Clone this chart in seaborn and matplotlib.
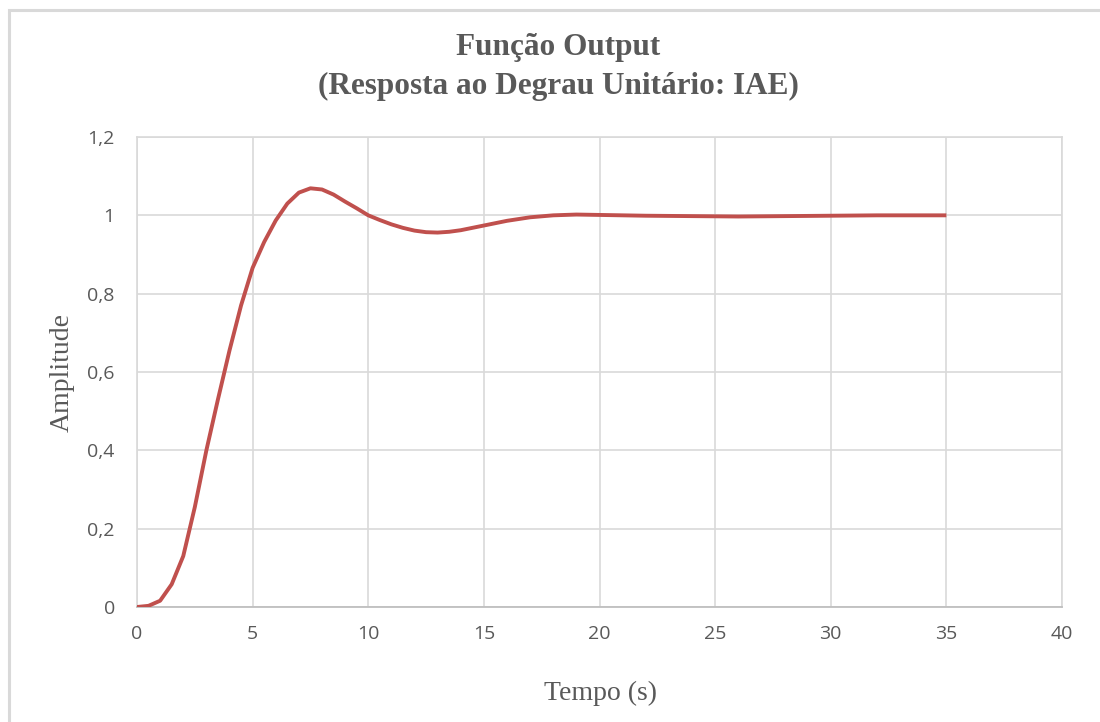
import matplotlib
matplotlib.use("Agg")
import matplotlib.pyplot as plt
import matplotlib.patches as mpatches
import seaborn as sns
import pandas as pd
from matplotlib.ticker import FuncFormatter

# ---- data ----
tempo = [0, 0.5, 1, 1.5, 2, 2.5, 3, 3.5, 4, 4.5, 5, 5.5, 6, 6.5, 7, 7.5, 8,
         8.5, 9, 9.5, 10, 10.5, 11, 11.5, 12, 12.5, 13, 13.5, 14, 15, 16, 17,
         18, 19, 20, 22, 24, 26, 28, 30, 32, 35]
amplitude = [0, 0.003, 0.016, 0.058, 0.13, 0.255, 0.40, 0.53, 0.655, 0.77,
             0.866, 0.932, 0.987, 1.03, 1.058, 1.069, 1.066, 1.053, 1.035,
             1.018, 1.0, 0.988, 0.977, 0.968, 0.961, 0.957, 0.956, 0.958,
             0.962, 0.974, 0.986, 0.995, 1.0, 1.002, 1.001, 0.999, 0.998,
             0.997, 0.998, 0.999, 1.0, 1.0]
x_ticks = [0, 5, 10, 15, 20, 25, 30, 35, 40]
y_ticks = [0, 0.2, 0.4, 0.6, 0.8, 1.0, 1.2]
title_lines = ["Função Output", "(Resposta ao Degrau Unitário: IAE)"]
x_label = "Tempo (s)"
y_label = "Amplitude"

df = pd.DataFrame({"Tempo": tempo, "Amplitude": amplitude})

sns.set_style("white")
plt.rcParams["font.family"] = ["Open Sans", "DejaVu Sans"]

W, H = 1100, 722
fig = plt.figure(figsize=(W / 100, H / 100), dpi=100)
ax = fig.add_axes([137 / W, 1 - 607 / H, (1062 - 137) / W, (607 - 137) / H])

sns.lineplot(data=df, x="Tempo", y="Amplitude", ax=ax, color="#C0504D",
             linewidth=2.8, sort=False, zorder=5,
             solid_joinstyle="round", solid_capstyle="butt")

ax.set_xlim(0, 40)
ax.set_ylim(0, 1.2)
ax.set_xticks(x_ticks)
ax.set_yticks(y_ticks)
fmt = FuncFormatter(lambda v, p: (f"{v:.1f}".rstrip("0").rstrip(".")).replace(".", ","))
ax.xaxis.set_major_formatter(fmt)
ax.yaxis.set_major_formatter(fmt)
ax.tick_params(axis="both", length=0, labelsize=14, labelcolor="#595959")
ax.tick_params(axis="y", pad=16)
ax.tick_params(axis="x", pad=13)
ax.grid(True, color="#D9D9D9", linewidth=1.2)
ax.set_axisbelow(True)
for s in ["top", "right", "left"]:
    ax.spines[s].set_visible(True)
    ax.spines[s].set_color("#D9D9D9")
    ax.spines[s].set_linewidth(1.2)
ax.spines["bottom"].set_color("#BFBFBF")
ax.spines["bottom"].set_linewidth(1.3)

ax.set_xlabel("")
ax.set_ylabel("")
serif = ["Liberation Serif", "DejaVu Serif"]
fig.text(600 / W, 1 - 693 / H, x_label, ha="center", va="center",
         fontsize=20, color="#595959", family=serif)
fig.text(62 / W, 1 - 372 / H, y_label, ha="center", va="center",
         fontsize=20, color="#595959", family=serif, rotation=90)

fig.text(558 / W, 1 - 47 / H, title_lines[0], ha="center", va="center",
         fontsize=22.5, fontweight="bold", color="#595959", family=serif)
fig.text(558 / W, 1 - 86 / H, title_lines[1], ha="center", va="center",
         fontsize=22.5, fontweight="bold", color="#595959", family=serif)

# chart frame (cut at right and bottom edges as in reference)
frame = mpatches.Rectangle((9 / W, -0.05), 1.1, 1 - 10 / H + 0.05,
                           transform=fig.transFigure, fill=False,
                           edgecolor="#D9D9D9", linewidth=2.2, clip_on=False)
fig.patches.append(frame)

fig.savefig("out.png", dpi=100)
